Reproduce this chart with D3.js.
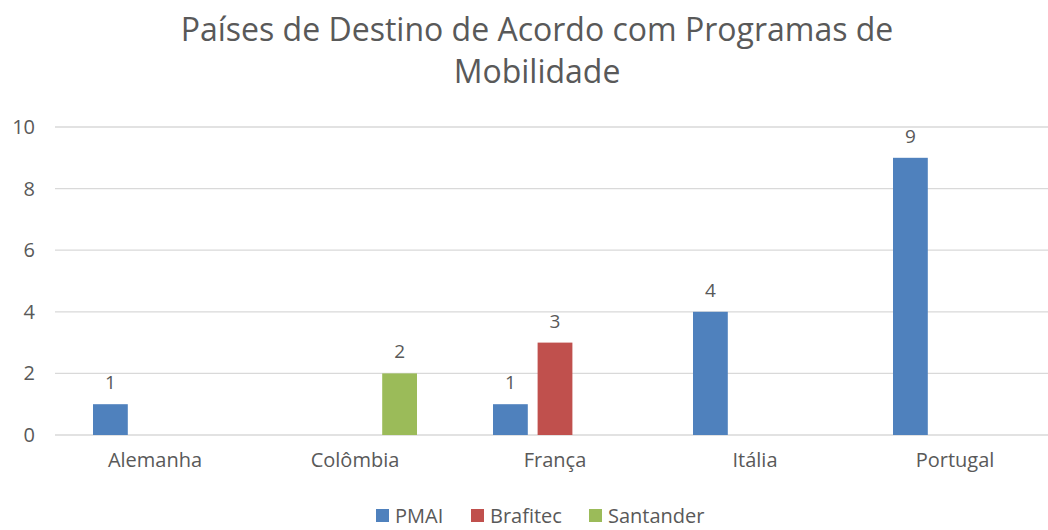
<!DOCTYPE html>
<html>
<head>
<meta charset="utf-8">
<script src="https://cdn.jsdelivr.net/npm/d3@7"></script>
<style>
  body { margin: 0; background: #fff; }
  text { font-family: "Open Sans", "Noto Sans", sans-serif; fill: #595959; }
</style>
</head>
<body>
<div id="chart"></div>
<script>
// data
var countries = ["Alemanha", "Colômbia", "França", "Itália", "Portugal"];
var seriesNames = ["PMAI", "Brafitec", "Santander"];
var pmai = [1, 0, 1, 4, 9];
var brafitec = [0, 0, 3, 0, 0];
var santander = [0, 2, 0, 0, 0];
var yTicks = [0, 2, 4, 6, 8, 10];
var colors = ["#4F81BD", "#C0504D", "#9BBB59"];

var svgWidth = 1048;
var svgHeight = 530;

var svg = d3.select("#chart")
    .append("svg")
    .attr("width", svgWidth)
    .attr("height", svgHeight);

// scales
var xScale = d3.scaleBand()
    .domain(countries)
    .range([55, 1055]);

var xInner = d3.scaleBand()
    .domain(seriesNames)
    .range([38, 162])
    .paddingInner(0.22);

var yScale = d3.scaleLinear()
    .domain([0, 10])
    .range([435, 127]);

// gridlines
svg.append("g")
    .selectAll("line")
    .data(yTicks)
    .enter()
    .append("line")
    .attr("x1", 55)
    .attr("x2", svgWidth)
    .attr("y1", d => yScale(d))
    .attr("y2", d => yScale(d))
    .attr("stroke", "#d9d9d9")
    .attr("stroke-width", 1.3);

// y axis labels
var leftAxis = d3.axisLeft(yScale).tickValues(yTicks).tickSize(0).tickPadding(0);
var yAxisG = svg.append("g")
    .attr("transform", "translate(35,0)")
    .call(leftAxis);
yAxisG.select(".domain").remove();
yAxisG.selectAll("text")
    .attr("font-size", "20px")
    .style("font-family", "'Open Sans', sans-serif")
    .attr("fill", "#595959");

// x axis labels
var bottomAxis = d3.axisBottom(xScale).tickSize(0).tickPadding(0);
var xAxisG = svg.append("g")
    .attr("transform", "translate(0,453)")
    .call(bottomAxis);
xAxisG.select(".domain").remove();
xAxisG.selectAll("text")
    .attr("font-size", "20px")
    .style("font-family", "'Open Sans', sans-serif")
    .attr("fill", "#595959");

// bars
var allSeries = [pmai, brafitec, santander];
var rows = [];
countries.forEach(function(c, i) {
    seriesNames.forEach(function(s, j) {
        rows.push({ country: c, series: s, value: allSeries[j][i], color: colors[j] });
    });
});

var barsGroup = svg.append("g");
barsGroup.selectAll("rect")
    .data(rows.filter(d => d.value > 0))
    .enter()
    .append("rect")
    .attr("x", d => xScale(d.country) + xInner(d.series))
    .attr("y", d => yScale(d.value))
    .attr("width", xInner.bandwidth())
    .attr("height", d => yScale(0) - yScale(d.value))
    .attr("fill", d => d.color);

// data labels
barsGroup.selectAll("text")
    .data(rows.filter(d => d.value > 0))
    .enter()
    .append("text")
    .attr("x", d => xScale(d.country) + xInner(d.series) + xInner.bandwidth() / 2)
    .attr("y", d => yScale(d.value) - 15)
    .attr("text-anchor", "middle")
    .attr("font-size", "19px")
    .attr("fill", "#404040")
    .text(d => d.value);

// title
svg.append("text")
    .attr("x", 537)
    .attr("y", 41)
    .attr("text-anchor", "middle")
    .attr("font-size", "32px")
    .text("Países de Destino de Acordo com Programas de");
svg.append("text")
    .attr("x", 537)
    .attr("y", 83)
    .attr("text-anchor", "middle")
    .attr("font-size", "32px")
    .text("Mobilidade");

// legend
var legendX = [376, 471, 589];
var legend = svg.append("g");
seriesNames.forEach(function(s, i) {
    legend.append("rect")
        .attr("x", legendX[i])
        .attr("y", 509)
        .attr("width", 13)
        .attr("height", 13)
        .attr("fill", colors[i]);
    legend.append("text")
        .attr("x", legendX[i] + 19)
        .attr("y", 523)
        .attr("font-size", "20px")
        .text(s);
});
</script>
</body>
</html>
